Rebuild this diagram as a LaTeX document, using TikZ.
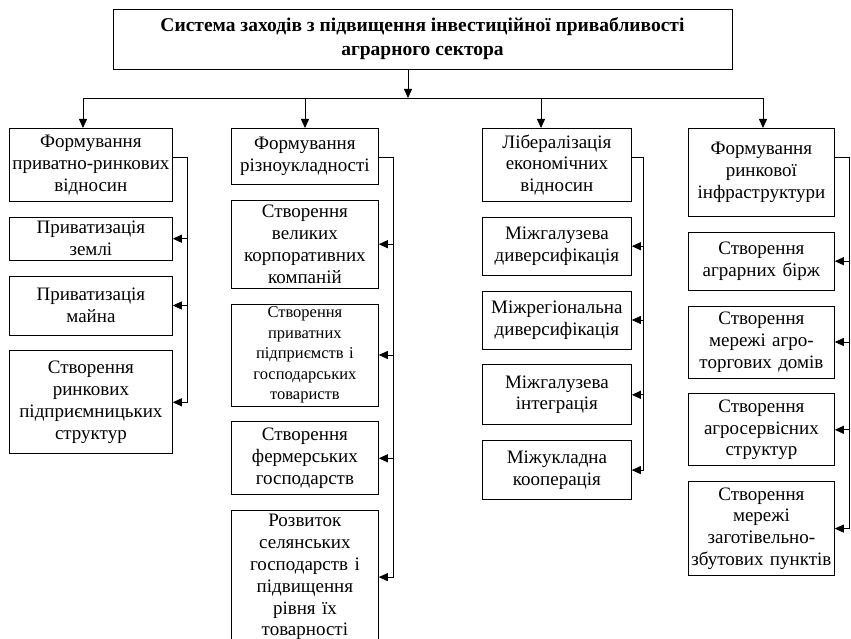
\documentclass[tikz,border=0pt]{standalone}
\usepackage{fontspec}
\setmainfont{Liberation Serif}
\usetikzlibrary{positioning,arrows.meta}

\begin{document}
\begin{tikzpicture}[x=1pt, y=-1pt, node distance=15pt,
    block/.style={rectangle, draw, line width=0.8pt, align=center, inner sep=2pt, font=\fontsize{19}{21.8}\selectfont},
    colA/.style={block, text width=159pt},
    colB/.style={block, text width=143pt},
    colC/.style={block, text width=145pt},
    colD/.style={block, text width=142pt},
    link/.style={line width=0.8pt},
    arrow/.style={line width=0.8pt, -{Triangle[length=9pt,width=8pt]}}]

    \useasboundingbox (0,0) rectangle (851,639);

    \node[block, font=\bfseries\fontsize{19.5}{24}\selectfont, minimum width=619pt, minimum height=60pt] (sys) at (422.5,39) {Система заходів з підвищення інвестиційної привабливості\\аграрного сектора};

    % Column 1
    \node[colA, minimum height=73pt, anchor=north west] (form1) at (9,128) {Формування\\приватно-ринкових\\відносин};
    \node[colA, minimum height=43pt, below=of form1] (land) {Приватизація\\землі};
    \node[colA, minimum height=59pt, below=of land] (prop) {Приватизація\\майна};
    \node[colA, minimum height=103pt, below=of prop] (struct) {Створення\\ринкових\\підприємницьких\\структур};

    % Column 2
    \node[colB, minimum height=56pt, anchor=north west] (form2) at (231,128) {Формування\\різноукладності};
    \node[colB, minimum height=88pt, below=of form2] (corp) {Створення\\великих\\корпоративних\\компаній};
    \node[colB, minimum height=102pt, below=of corp, font=\fontsize{16.5}{20.5}\selectfont] (priv) {Створення\\приватних\\підприємств і\\господарських\\товариств};
    \node[colB, minimum height=73pt, below=of priv] (farm) {Створення\\фермерських\\господарств};
    \node[colB, minimum height=133pt, below=of farm] (peas) {Розвиток\\селянських\\господарств і\\підвищення\\рівня їх\\товарності};

    % Column 3
    \node[colC, minimum height=73pt, anchor=north west] (lib) at (482,128) {Лібералізація\\економічних\\відносин};
    \node[colC, minimum height=58pt, below=of lib] (sect) {Міжгалузева\\диверсифікація};
    \node[colC, minimum height=58pt, below=of sect] (reg) {Міжрегіональна\\диверсифікація};
    \node[colC, minimum height=60pt, below=of reg] (integ) {Міжгалузева\\інтеграція};
    \node[colC, minimum height=59pt, below=of integ] (coop) {Міжукладна\\кооперація};

    % Column 4
    \node[colD, minimum height=88pt, anchor=north west] (infra) at (688,128) {Формування\\ринкової\\інфраструктури};
    \node[colD, minimum height=58pt, below=of infra] (exch) {Створення\\аграрних бірж};
    \node[colD, minimum height=72pt, below=of exch] (trade) {Створення\\мережі агро-\\торгових домів};
    \node[colD, minimum height=72pt, below=of trade] (serv) {Створення\\агросервісних\\структур};
    \node[colD, minimum height=94pt, below=of serv] (proc) {Створення\\мережі\\заготівельно-\\збутових пунктів};

    % Top bus
    \coordinate (b0) at (408,98);
    \coordinate (b1) at (83,98);
    \coordinate (b2) at (305,98);
    \coordinate (b3) at (541,98);
    \coordinate (b4) at (763,98);
    \draw[arrow] (sys.south -| b0) -- (b0);
    \draw[link] (b1) -- (b4);
    \draw[arrow] (b1) -- (b1 |- form1.north);
    \draw[arrow] (b2) -- (b2 |- form2.north);
    \draw[arrow] (b3) -- (b3 |- lib.north);
    \draw[arrow] (b4) -- (b4 |- infra.north);

    % Side links
    \draw[link] ([yshift=-29pt]form1.north east) -- ++(15,0) coordinate (v1);
    \foreach \n in {land,prop,struct} \draw[arrow] (v1) |- (\n.east);
    \draw[link] ([yshift=-29pt]form2.north east) -- ++(15,0) coordinate (v2);
    \foreach \n in {corp,priv,farm,peas} \draw[arrow] (v2) |- (\n.east);
    \draw[link] ([yshift=-29pt]lib.north east) -- ++(12,0) coordinate (v3);
    \foreach \n in {sect,reg,integ,coop} \draw[arrow] (v3) |- (\n.east);
    \draw[link] ([yshift=-29pt]infra.north east) -- ++(15,0) coordinate (v4);
    \foreach \n in {exch,trade,serv,proc} \draw[arrow] (v4) |- (\n.east);

\end{tikzpicture}
\end{document}
